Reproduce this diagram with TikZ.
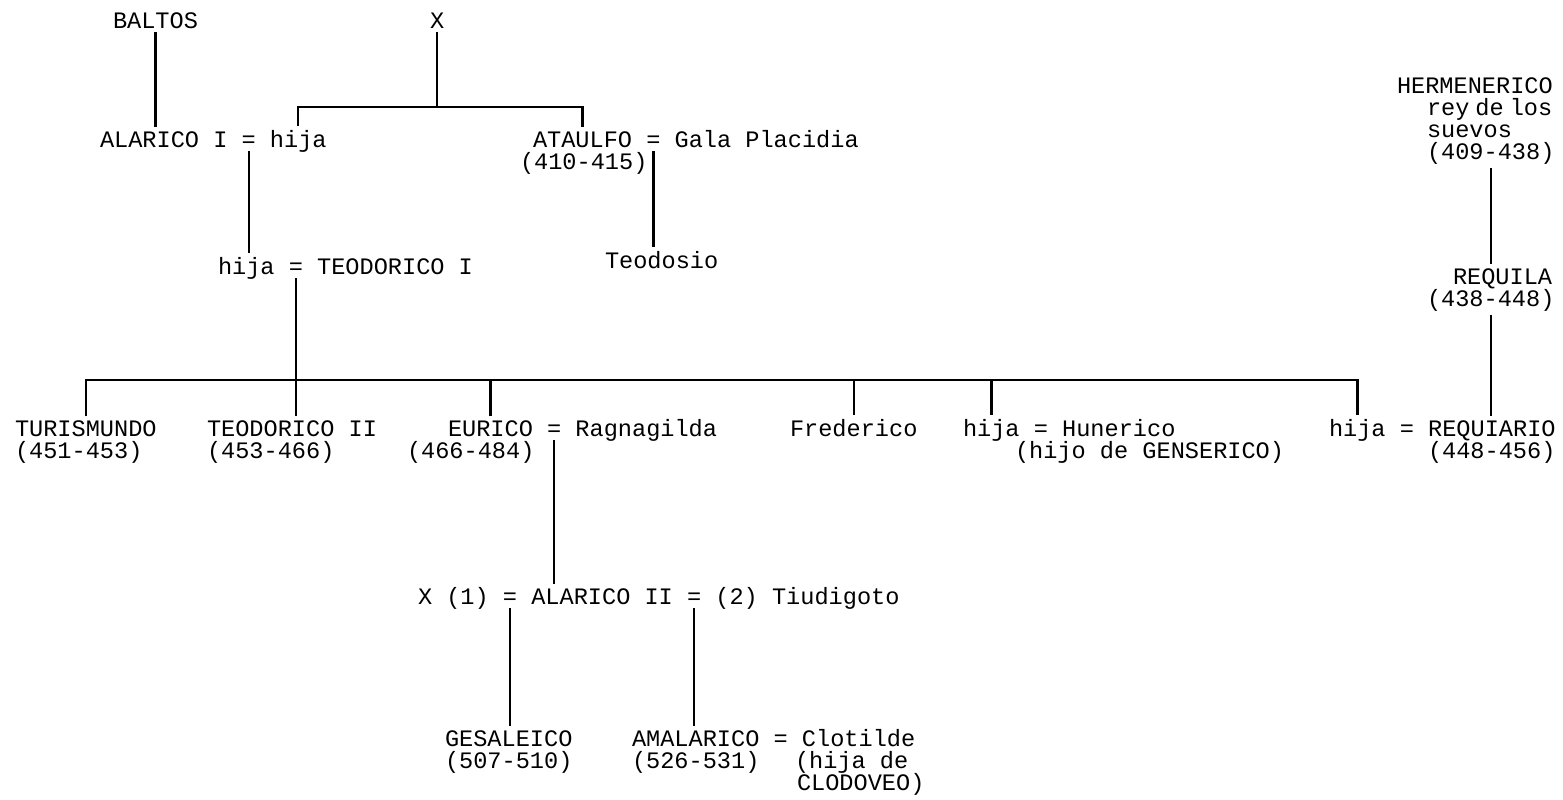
\documentclass[tikz,border=0pt]{standalone}
\usepackage{fontspec}
\setmonofont{Liberation Mono}
\usetikzlibrary{positioning}

\begin{document}
\begin{tikzpicture}[
      x=0.5pt, y=-0.5pt,
      every node/.style={font=\ttfamily\fontsize{11.8}{11}\selectfont, inner sep=0pt, outer xsep=0pt, outer ysep=2pt, anchor=base west},
      eq/.style={inner xsep=7.08pt},
      link/.style={line width=1.2pt}]
    \useasboundingbox (0,0) rectangle (1563,799);
    % generation 1
    \node (baltos) at (113,28) {BALTOS};
    \node (xa) at (430,28) {X};
    \node (alarico) at (100,147) {ALARICO I};
    \node[eq] (eqa) at (alarico.base east) {=};
    \node (hijaa) at (eqa.base east) {hija};
    \node (ataulfo) at (533,147) {ATAULFO};
    \node[eq] (eqb) at (ataulfo.base east) {=};
    \node (gala) at (eqb.base east) {Gala Placidia};
    \node (ataulfod) at (520,169) {(410-415)};
    \node (teodosio) at (605,268) {Teodosio};
    \node (hijab) at (218,274) {hija};
    \node[eq] (eqc) at (hijab.base east) {=};
    \node (teodorico) at (eqc.base east) {TEODORICO I};
    % suevos
    \node (herm) at (1397,93) {HERMENERICO};
    \node (herma) at (1427,115) {\spaceskip=3pt rey de los};
    \node (hermb) at (1427,137) {suevos};
    \node (hermd) at (1427,159) {(409-438)};
    \node (requila) at (1453,284) {REQUILA};
    \node (requilad) at (1427,306) {(438-448)};
    % hijos de Teodorico I
    \node (turis) at (15,436) {TURISMUNDO};
    \node (turisd) at (15,458) {(451-453)};
    \node (teoii) at (207,436) {TEODORICO II};
    \node (teoiid) at (207,458) {(453-466)};
    \node (eurico) at (448,436) {EURICO};
    \node[eq] (eqd) at (eurico.base east) {=};
    \node (ragna) at (eqd.base east) {Ragnagilda};
    \node (euricod) at (407,458) {(466-484)};
    \node (frede) at (790,436) {Frederico};
    \node (hijac) at (963,436) {hija};
    \node[eq] (eqg) at (hijac.base east) {=};
    \node (hune) at (eqg.base east) {Hunerico};
    \node (huned) at (1015,458) {(hijo de GENSERICO)};
    \node (hijad) at (1329,436) {hija};
    \node[eq] (eqh) at (hijad.base east) {=};
    \node (requiario) at (eqh.base east) {REQUIARIO};
    \node (requiariod) at (1428,458) {(448-456)};
    % Alarico II
    \node (xb) at (418,604) {X (1)};
    \node[eq] (eqe) at (xb.base east) {=};
    \node (alaricoii) at (eqe.base east) {ALARICO II};
    \node[eq] (eqf) at (alaricoii.base east) {=};
    \node (tiud) at (eqf.base east) {(2) Tiudigoto};
    \node (gesa) at (445,746) {GESALEICO};
    \node (gesad) at (445,768) {(507-510)};
    \node (amala) at (632,746) {AMALARICO};
    \node[eq] (eqi) at (amala.base east) {=};
    \node (cloti) at (eqi.base east) {Clotilde};
    \node (amalad) at (632,768) {(526-531)};
    \node (clotia) at (795,768) {(hija de};
    \node (clotib) at (797,790) {CLODOVEO)};
    % lines
    \coordinate (xbar) at (0,107);
    \coordinate (hbar) at (0,380);
    \draw[link] (baltos.south) -- (baltos.south |- alarico.north);
    \draw[link] (xa.south) -- (xa.south |- xbar);
    \draw[link] (hijaa.north) -- (hijaa.north |- xbar) -| (ataulfo.north);
    \draw[link] (eqa.south) -- (eqa.south |- hijab.north);
    \draw[link] (eqb.south) -- (eqb.south |- teodosio.north);
    \draw[link] (eqc.south) -- (eqc.south |- teoii.north);
    \draw[link] (turis.north) -- (turis.north |- hbar) -| (hijad.north);
    \foreach \n in {eurico, frede, hijac}
      \draw[link] (\n.north) -- (\n.north |- hbar);
    \draw[link] (eqd.south) -- (eqd.south |- alaricoii.north);
    \draw[link] (hermd.south) -- (hermd.south |- requila.north);
    \draw[link] (requilad.south) -- (requilad.south |- requiario.north);
    \draw[link] (eqe.south) -- (eqe.south |- gesa.north);
    \draw[link] (eqf.south) -- (eqf.south |- amala.north);
  \end{tikzpicture}
\end{document}
